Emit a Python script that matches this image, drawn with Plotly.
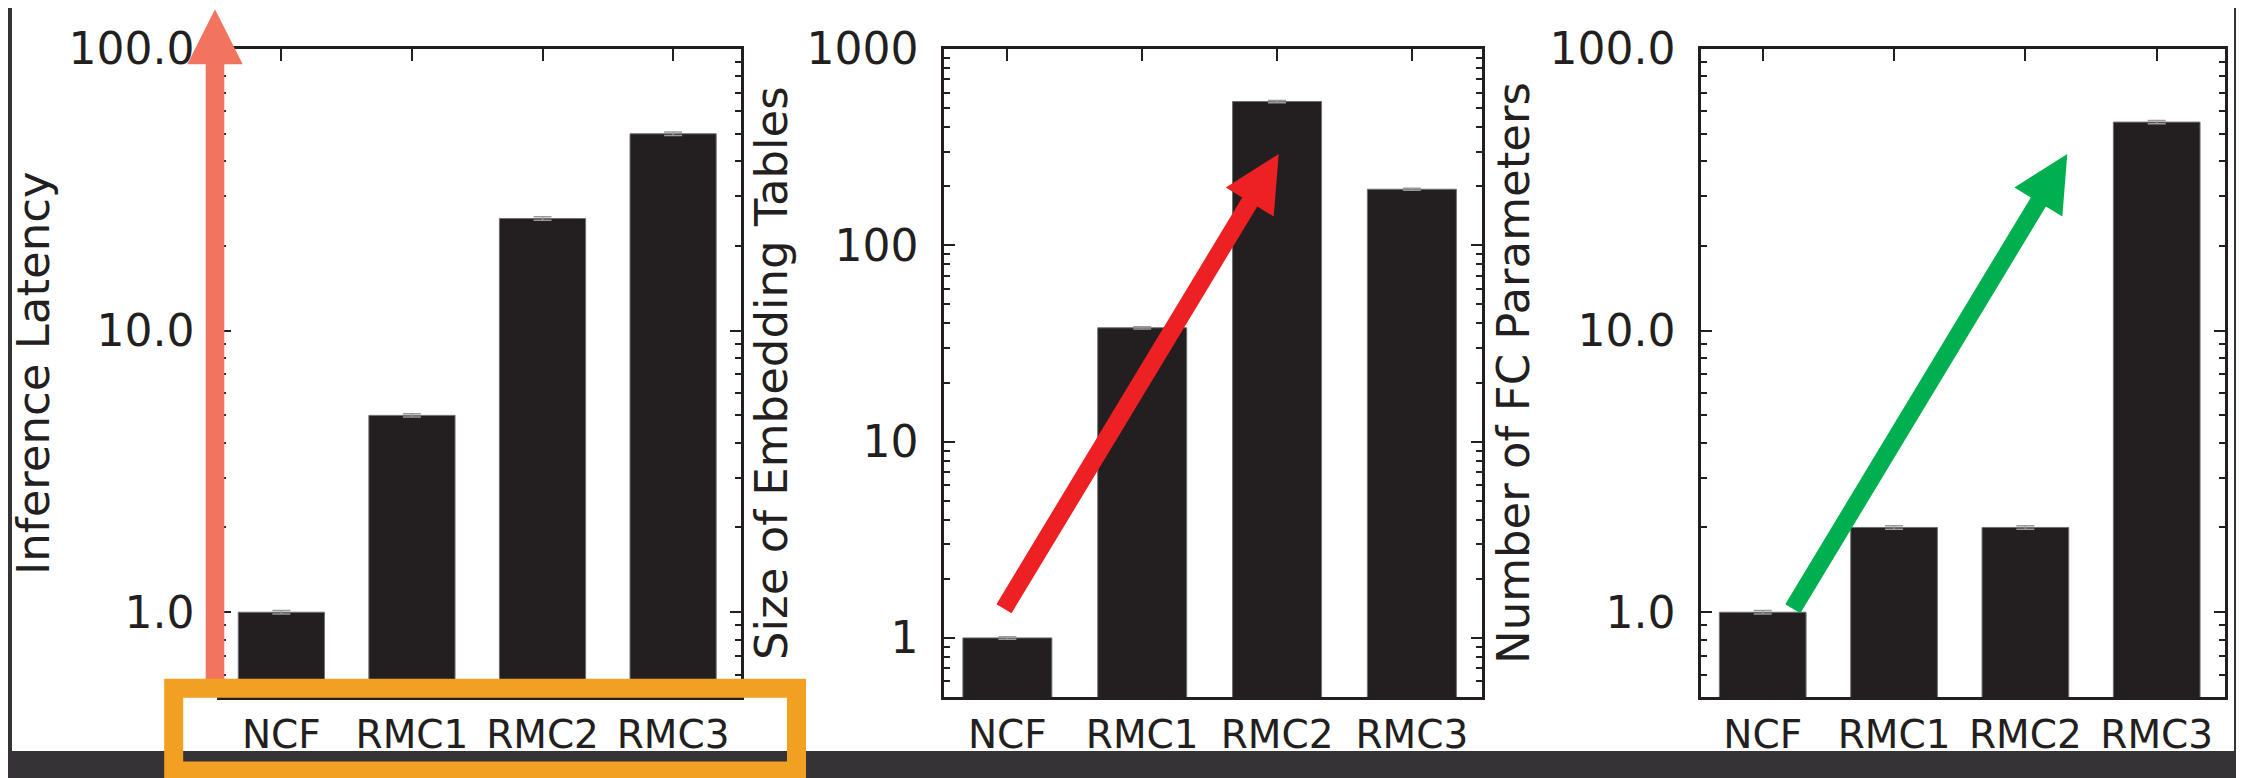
import plotly.graph_objects as go

# ---------------- data ----------------
categories = ["NCF", "RMC1", "RMC2", "RMC3"]
latency = [1.0, 5.0, 25.0, 50.0]
latency_err = [0.015, 0.07, 0.35, 0.7]
embedding = [1.0, 38.0, 540.0, 193.0]
embedding_err = [0.015, 0.5, 7.0, 2.5]
fc_params = [1.0, 2.0, 2.0, 55.0]
fc_params_err = [0.015, 0.03, 0.03, 0.7]

ticks_13 = [1, 10, 100]
ticktext_13 = ["1.0", "10.0", "100.0"]
ticks_2 = [1, 10, 100, 1000]
ticktext_2 = ["1", "10", "100", "1000"]

titles = ["Inference Latency", "Size of Embedding Tables", "Number of FC Parameters"]

# ---------------- styling ----------------
OFF = 8                      # default page body margin
W, H = 2244 - OFF, 778 - OFF
DARK = "#231f20"
FRAME = "#353336"
FONT = "DejaVu Sans"


def px(x):
    return (x - OFF) / W


def py(y):
    return 1 - (y - OFF) / H


def minor_vals(lo_exp, hi_exp):
    vals = []
    for e in range(lo_exp, hi_exp):
        for m in range(2, 10):
            vals.append(m * 10 ** e)
    return vals


fig = go.Figure()

series = [(latency, latency_err), (embedding, embedding_err), (fc_params, fc_params_err)]
for i, (vals, errs) in enumerate(series):
    fig.add_trace(go.Bar(
        x=categories, y=vals,
        error_y=dict(type="data", array=errs, color="#9a9a9a", thickness=1.5, width=9),
        marker=dict(color=DARK, line=dict(color="#6f6f6f", width=1)),
        width=0.66,
        xaxis="x" if i == 0 else f"x{i+1}",
        yaxis="y" if i == 0 else f"y{i+1}",
        showlegend=False,
    ))

xdomains = [[px(220), px(741)], [px(944), px(1482)], [px(1701), px(2225)]]
ydomain = [py(697), py(49)]

axis_common = dict(
    showline=True, linecolor=DARK, linewidth=2.5, mirror="allticks",
    ticks="inside", tickcolor=DARK, tickwidth=2, showgrid=False, zeroline=False,
    automargin=False,
)

layout = dict(
    width=W, height=H,
    margin=dict(l=0, r=0, t=0, b=0, pad=0),
    paper_bgcolor=FRAME, plot_bgcolor="white",
    font=dict(family=FONT, color=DARK),
    template="none",
)

for i in range(3):
    xa = "xaxis" if i == 0 else f"xaxis{i+1}"
    ya = "yaxis" if i == 0 else f"yaxis{i+1}"
    yref = "y" if i == 0 else f"y{i+1}"
    xref = "x" if i == 0 else f"x{i+1}"
    layout[xa] = dict(
        axis_common, domain=xdomains[i], anchor=yref, type="category",
        range=[-0.47, 3.52], ticklen=12,
        tickfont=dict(family=FONT, size=39, color=DARK), ticklabelstandoff=1,
    )
    if i == 1:
        tv, tt, rng, mv = ticks_2, ticktext_2, [-0.30103, 3.0], minor_vals(-1, 3)
    else:
        tv, tt, rng, mv = ticks_13, ticktext_13, [-0.30103, 2.0], minor_vals(-1, 2)
    mv = [v for v in mv if v >= 0.5]
    layout[ya] = dict(
        axis_common, domain=ydomain, anchor=xref, type="log",
        range=rng, tickvals=tv, ticktext=tt, ticklen=11,
        tickfont=dict(family=FONT, size=44, color=DARK), ticklabelstandoff=14,
        minor=dict(tickvals=mv, ticks="inside", ticklen=6, tickcolor=DARK, tickwidth=1.5),
    )

fig.update_layout(**layout)

# axis titles as rotated annotations
title_x = [33, 771, 1513]
for t, xc in zip(titles, title_x):
    fig.add_annotation(
        text=t, x=px(xc), y=py(373), xref="paper", yref="paper",
        textangle=-90, showarrow=False, xanchor="center", yanchor="middle",
        font=dict(family=FONT, size=45, color=DARK),
    )

# white canvas inside the dark frame
fig.add_shape(type="rect", xref="paper", yref="paper",
              x0=px(12), x1=px(2234), y0=py(751), y1=py(7),
              fillcolor="white", line=dict(width=0), layer="below")


def arrow_path(tail, tip, w, hw, hl):
    tx, ty = tail
    qx, qy = tip
    dx, dy = qx - tx, qy - ty
    L = (dx * dx + dy * dy) ** 0.5
    dx, dy = dx / L, dy / L
    nx, ny = -dy, dx
    bx, by = qx - dx * hl, qy - dy * hl
    pts = [
        (tx + nx * w / 2, ty + ny * w / 2),
        (bx + nx * w / 2, by + ny * w / 2),
        (bx + nx * hw / 2, by + ny * hw / 2),
        (qx, qy),
        (bx - nx * hw / 2, by - ny * hw / 2),
        (bx - nx * w / 2, by - ny * w / 2),
        (tx - nx * w / 2, ty - ny * w / 2),
    ]
    return "M " + " L ".join(f"{px(x):.6f},{py(y):.6f}" for x, y in pts) + " Z"


arrows = [
    ((215, 696), (215, 9.3), 18.6, 55.4, 55, "#f2745f"),
    ((1004, 608.7), (1278.7, 154), 17.6, 56, 56, "#ed2024"),
    ((1792.8, 608.7), (2067.3, 154), 17.6, 56, 56, "#00b050"),
]
for tail, tip, w, hw, hl, col in arrows:
    fig.add_shape(type="path", xref="paper", yref="paper",
                  path=arrow_path(tail, tip, w, hw, hl),
                  fillcolor=col, line=dict(width=0), layer="above")

# orange highlight box around first chart's category labels
fig.add_shape(type="rect", xref="paper", yref="paper",
              x0=px(173.7), x1=px(796.5), y0=py(771), y1=py(688.2),
              line=dict(color="#f2a022", width=19), fillcolor="rgba(0,0,0,0)", layer="above")

fig.write_html("out.html")
